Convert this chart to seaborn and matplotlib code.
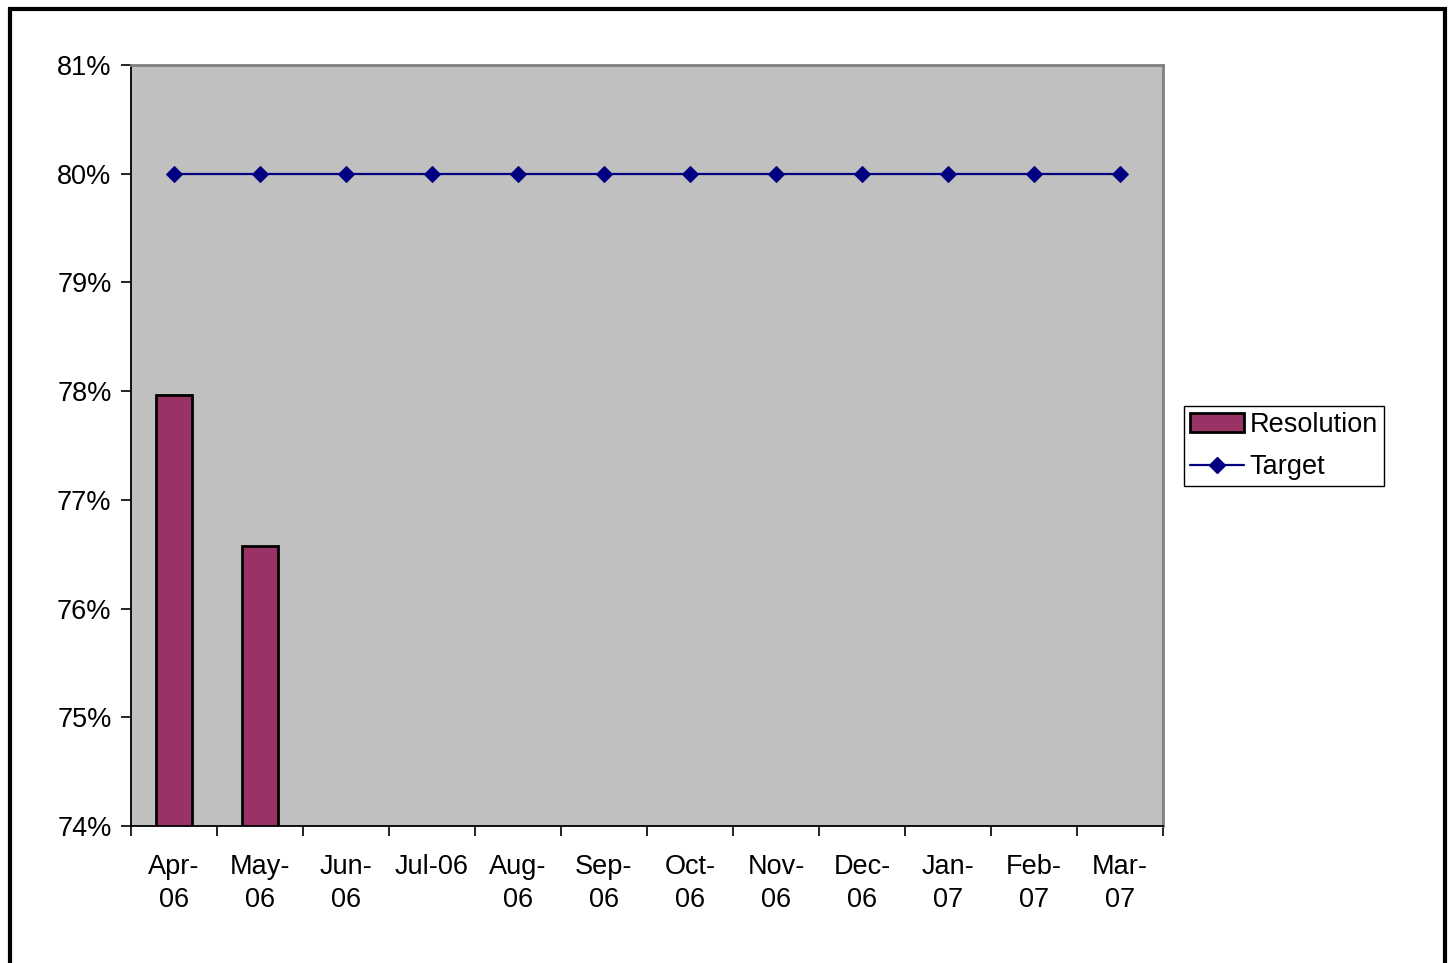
import matplotlib
matplotlib.use("Agg")
import matplotlib.pyplot as plt
import matplotlib.patches as mpatches
from matplotlib.lines import Line2D
from matplotlib.ticker import FuncFormatter, FixedLocator
import numpy as np
import pandas as pd
import seaborn as sns

months = ["Apr-06", "May-06", "Jun-06", "Jul-06", "Aug-06", "Sep-06",
          "Oct-06", "Nov-06", "Dec-06", "Jan-07", "Feb-07", "Mar-07"]
month_labels = ["Apr-\n06", "May-\n06", "Jun-\n06", "Jul-06", "Aug-\n06", "Sep-\n06",
                "Oct-\n06", "Nov-\n06", "Dec-\n06", "Jan-\n07", "Feb-\n07", "Mar-\n07"]
resolution = [0.7796, 0.7658, np.nan, np.nan, np.nan, np.nan,
              np.nan, np.nan, np.nan, np.nan, np.nan, np.nan]
target = [0.80] * 12
y_ticks = [0.74, 0.75, 0.76, 0.77, 0.78, 0.79, 0.80, 0.81]

sns.set_style("white")
plt.rcParams["font.family"] = ["Liberation Sans", "DejaVu Sans"]
plt.rcParams["text.color"] = "black"
plt.rcParams["xtick.color"] = "black"
plt.rcParams["ytick.color"] = "black"

df = pd.DataFrame({"month": months, "resolution": resolution, "target": target})

fig = plt.figure(figsize=(14.52, 9.63), dpi=100)
ax = fig.add_axes([131 / 1452, 1 - 826 / 963, (1163 - 131) / 1452, (826 - 65) / 963])
ax.set_facecolor("#C0C0C0")

bar_color = "#993366"
line_color = "#000080"

sns.barplot(data=df.dropna(subset=["resolution"]), x="month", y="resolution",
            order=months, color=bar_color, width=0.41, saturation=1,
            edgecolor="black", linewidth=2, ax=ax)
xs = np.arange(len(months))
sns.lineplot(x=xs, y=df["target"], color=line_color, linewidth=1.6, marker="D",
             markersize=8, markeredgecolor=line_color, ax=ax)

ax.set_xlim(-0.5, len(months) - 0.5)
ax.set_ylim(0.74, 0.81)
ax.yaxis.set_major_locator(FixedLocator(y_ticks))
ax.yaxis.set_major_formatter(FuncFormatter(lambda v, _: f"{v * 100:.0f}%"))
ax.set_xticks(xs)
ax.set_xticklabels(month_labels, fontsize=19.5, linespacing=1.35, color="black")
ax.set_xticks(np.arange(len(months) + 1) - 0.5, minor=True)
ax.tick_params(axis="x", which="major", length=0, pad=20)
ax.tick_params(axis="x", which="minor", length=7, width=1.2, color="black", direction="out", bottom=True)
ax.tick_params(axis="y", which="major", length=7, width=1.2, color="black", direction="out",
               left=True, labelsize=19.5, pad=7, labelcolor="black")
ax.set_xlabel("")
ax.set_ylabel("")

for side in ["top", "right"]:
    ax.spines[side].set_color("#808080")
    ax.spines[side].set_linewidth(2)
for side in ["left", "bottom"]:
    ax.spines[side].set_color("black")
    ax.spines[side].set_linewidth(1.3)

handles = [mpatches.Patch(facecolor=bar_color, edgecolor="black", linewidth=2),
           Line2D([0], [0], color=line_color, linewidth=1.6, marker="D", markersize=8)]
leg = fig.legend(handles, ["Resolution", "Target"], loc="upper left",
                 bbox_to_anchor=(1184 / 1452, 1 - 406 / 963), fontsize=19.5,
                 frameon=True, fancybox=False, edgecolor="black", framealpha=1,
                 borderpad=0.22, handlelength=2.0, handletextpad=0.2, labelspacing=0.6,
                 borderaxespad=0)
leg.get_frame().set_linewidth(1)
for t in leg.get_texts():
    t.set_color("black")

# outer frame around the chart
fig.patches.append(mpatches.Rectangle((9.5 / 1452, -0.05), (1445 - 9.5) / 1452, 1.05 - 9 / 963,
                                      transform=fig.transFigure, fill=False,
                                      edgecolor="black", linewidth=3))

fig.savefig("out.png", dpi=100)
